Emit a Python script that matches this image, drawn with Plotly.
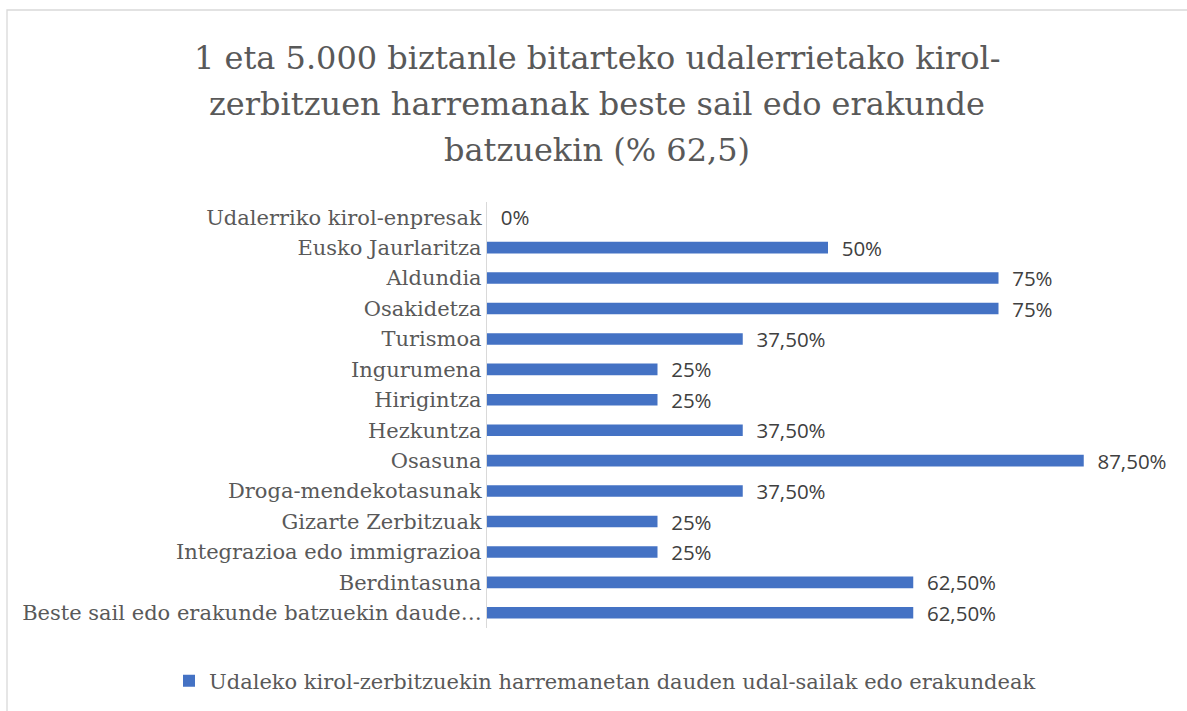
import plotly.graph_objects as go

categories = [
    "Udalerriko kirol-enpresak",
    "Eusko Jaurlaritza",
    "Aldundia",
    "Osakidetza",
    "Turismoa",
    "Ingurumena",
    "Hirigintza",
    "Hezkuntza",
    "Osasuna",
    "Droga-mendekotasunak",
    "Gizarte Zerbitzuak",
    "Integrazioa edo immigrazioa",
    "Berdintasuna",
    "Beste sail edo erakunde batzuekin daude…",
]
values = [0.0, 0.50, 0.75, 0.75, 0.375, 0.25, 0.25, 0.375, 0.875, 0.375, 0.25, 0.25, 0.625, 0.625]
series_name = "Udaleko kirol-zerbitzuekin harremanetan dauden udal-sailak edo erakundeak"
title_lines = [
    "1 eta 5.000 biztanle bitarteko udalerrietako kirol-",
    "zerbitzuen harremanak beste sail edo erakunde",
    "batzuekin (% 62,5)",
]


def fmt(v):
    p = v * 100
    if abs(p - round(p)) < 1e-9:
        s = f"{int(round(p))}%"
    else:
        s = f"{p:.2f}".replace(".", ",") + "%"
    return "\u00a0\u00a0" + s


W, H = 1187, 711
L, R, T, B = 487, 18, 202, 83
pw = W - L - R
ph = H - T - B
SERIF = "'DejaVu Serif', serif"


def px_x(px):
    return (px - L) / pw


def px_y(py):
    return (H - B - py) / ph


fig = go.Figure()
fig.add_trace(go.Bar(
    y=categories,
    x=values,
    orientation="h",
    name=series_name,
    marker=dict(color="#4472C4", line=dict(width=0)),
    text=[fmt(v) for v in values],
    textposition="outside",
    constraintext="none",
    cliponaxis=False,
    textfont=dict(family="Open Sans", size=20.5, color="#404040"),
    showlegend=True,
))

# chart border (top and left visible)
fig.add_shape(type="rect", xref="paper", yref="paper",
              x0=px_x(7), x1=px_x(1200), y0=px_y(10), y1=px_y(720),
              line=dict(color="#D9D9D9", width=1.3), fillcolor="rgba(0,0,0,0)", layer="below")

# chart title, one line per annotation
for line, ypx in zip(title_lines, [58, 104, 150]):
    fig.add_annotation(text=line, xref="paper", yref="paper",
                       x=px_x(597), y=px_y(ypx), xanchor="center", yanchor="middle",
                       showarrow=False,
                       font=dict(family=SERIF, size=32, color="#595959"))

fig.update_layout(
    width=W, height=H,
    margin=dict(l=L, r=R, t=T, b=B, autoexpand=False),
    paper_bgcolor="white",
    plot_bgcolor="white",
    bargap=0.62,
    xaxis=dict(range=[0, 1], showgrid=False, showticklabels=False, zeroline=False,
               showline=False, ticks=""),
    yaxis=dict(autorange="reversed", showgrid=False, zeroline=False,
               showline=True, linecolor="#D9D9D9", linewidth=1.3,
               ticks="", ticklabelstandoff=0,
               tickfont=dict(family=SERIF, size=21, color="#595959")),
    legend=dict(orientation="h", x=px_x(605), xanchor="center",
                y=px_y(681), yanchor="middle",
                font=dict(family=SERIF, size=21, color="#595959"),
                itemwidth=30),
    showlegend=True,
)

fig.write_html("out.html", config={"displayModeBar": False},
               post_script="document.body.style.margin='0';")
